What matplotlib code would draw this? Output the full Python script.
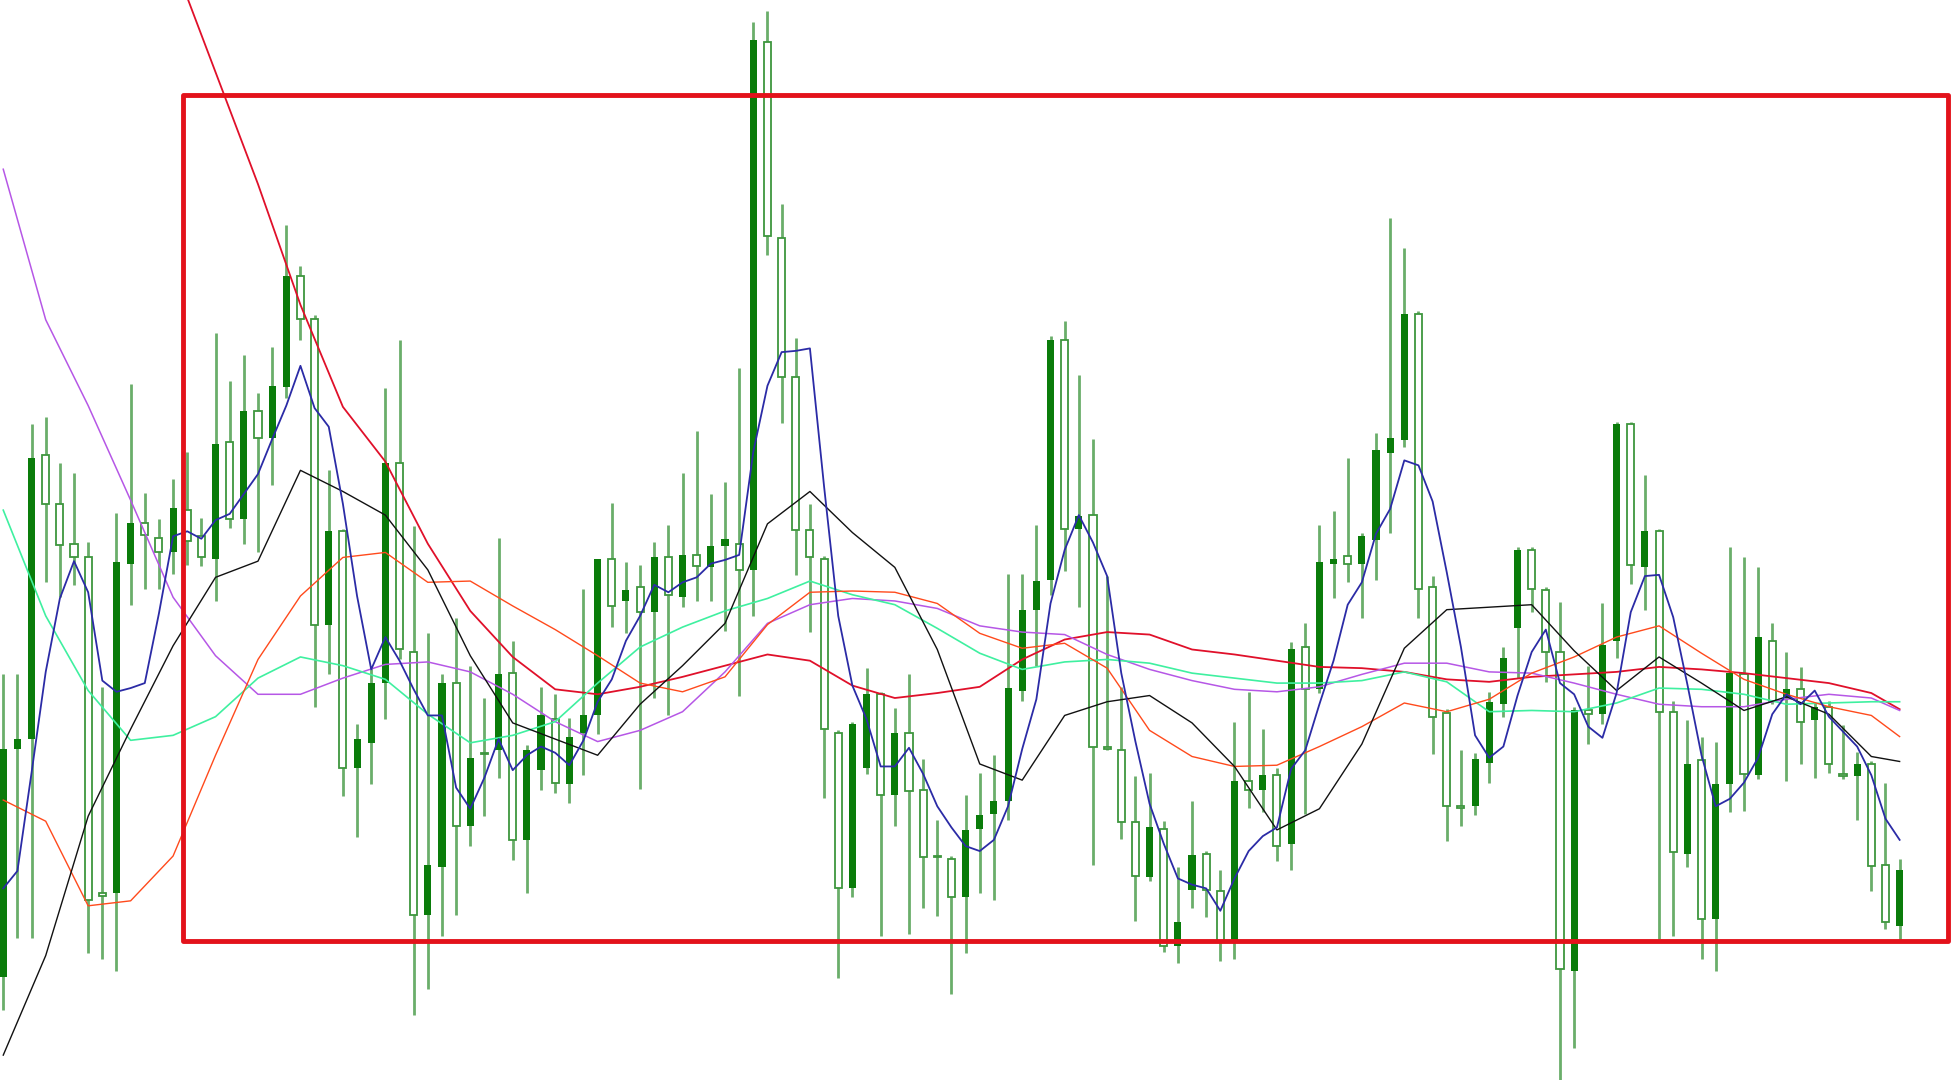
import numpy as np
import matplotlib.pyplot as plt
from matplotlib.patches import Rectangle

# OHLC per bar (price in chart points)
opens = [83, 266, 274, 502, 463, 431, 420, 150, 150, 415,
         448, 436, 424, 458, 437, 419, 513, 451, 538, 516,
         557, 646, 612, 366, 441, 251, 271, 319, 496, 344,
         133, 171, 319, 204, 263, 265, 327, 193, 249, 290,
         238, 279, 293, 419, 385, 396, 376, 420, 388, 422,
         412, 429, 431, 410, 834, 677, 565, 442, 419, 279,
         154, 251, 310, 229, 279, 233, 180, 178, 147, 202,
         214, 224, 313, 378, 402, 595, 443, 454, 268, 265,
         207, 163, 202, 108, 153, 182, 152, 111, 240, 233,
         245, 190, 348, 314, 415, 421, 415, 434, 504, 514,
         616, 396, 295, 220, 220, 255, 302, 363, 426, 394,
         344, 88, 297, 294, 353, 527, 412, 441, 296, 182,
         257, 129, 238, 326, 245, 353, 307, 314, 289, 300,
         246, 244, 254, 173, 124]
highs = [326, 326, 527, 533, 496, 488, 432, 316, 456, 559,
         472, 451, 483, 505, 452, 600, 562, 583, 552, 589,
         687, 654, 615, 490, 443, 286, 332, 556, 595, 445,
         359, 326, 371, 333, 307, 436, 353, 269, 316, 310,
         291, 395, 419, 464, 416, 414, 432, 446, 488, 522,
         471, 481, 572, 850, 859, 704, 596, 463, 421, 281,
         288, 331, 312, 299, 326, 258, 209, 180, 229, 247,
         261, 407, 407, 446, 598, 610, 567, 515, 405, 316,
         244, 247, 208, 171, 224, 184, 169, 288, 312, 282,
         251, 352, 367, 446, 457, 500, 440, 520, 693, 669,
         618, 405, 298, 265, 263, 312, 348, 428, 428, 396,
         384, 300, 333, 383, 529, 529, 486, 443, 305, 289,
         276, 272, 428, 420, 412, 367, 344, 332, 303, 305,
         285, 264, 256, 239, 178]
lows = [56, 114, 114, 400, 388, 398, 102, 97, 88, 382,
        395, 395, 407, 414, 413, 385, 444, 431, 424, 478,
        548, 595, 300, 326, 228, 195, 238, 290, 338, 52,
        73, 116, 133, 188, 212, 243, 177, 150, 233, 231,
        223, 245, 278, 364, 359, 234, 307, 293, 380, 385,
        385, 361, 309, 373, 663, 528, 406, 360, 227, 82,
        147, 246, 116, 204, 117, 138, 132, 69, 102, 150,
        145, 209, 305, 333, 390, 409, 380, 173, 265, 194,
        128, 160, 103, 94, 138, 131, 96, 97, 219, 215,
        176, 169, 214, 311, 387, 400, 371, 402, 440, 509,
        371, 262, 192, 204, 213, 239, 292, 323, 376, 320,
        -5, 26, 270, 286, 339, 399, 378, 113, 116, 171,
        97, 88, 215, 216, 242, 302, 240, 254, 243, 247,
        242, 209, 152, 121, 112]
closes = [266, 274, 500, 463, 430, 420, 145, 148, 416, 448,
          438, 424, 460, 433, 420, 511, 451, 538, 516, 558,
          646, 612, 366, 441, 251, 274, 319, 496, 346, 133,
          173, 319, 204, 259, 262, 326, 193, 265, 293, 239,
          276, 293, 419, 381, 394, 376, 420, 390, 422, 413,
          429, 435, 410, 836, 678, 565, 442, 420, 282, 154,
          286, 310, 229, 279, 232, 179, 179, 147, 201, 213,
          224, 315, 378, 401, 595, 443, 453, 268, 266, 207,
          164, 203, 108, 127, 181, 153, 111, 240, 233, 245,
          188, 346, 314, 416, 419, 415, 437, 506, 516, 616,
          395, 292, 220, 219, 258, 304, 339, 426, 395, 344,
          89, 297, 294, 350, 527, 414, 441, 296, 183, 254,
          129, 238, 327, 246, 356, 305, 314, 288, 300, 254,
          244, 254, 172, 127, 169]

# fast MA (blue), one value per bar
ma_fast = [154, 168, 247, 328, 387, 417, 392, 321, 312, 315,
           319, 375, 437, 441, 435, 450, 455, 471, 487, 515,
           542, 574, 540, 525, 463, 389, 330, 356, 337, 314,
           293, 293, 235, 218, 243, 274, 249, 261, 268, 263,
           253, 273, 304, 322, 353, 373, 398, 392, 400, 404,
           415, 418, 422, 505, 558, 585, 586, 588, 477, 373,
           317, 290, 252, 252, 267, 246, 220, 203, 188, 184,
           193, 220, 266, 306, 383, 426, 454, 432, 405, 327,
           272, 222, 190, 162, 157, 154, 136, 162, 184, 196,
           203, 250, 265, 302, 337, 382, 400, 439, 459, 498,
           494, 465, 408, 348, 277, 259, 268, 309, 344, 362,
           319, 310, 284, 275, 311, 376, 405, 406, 372, 318,
           261, 220, 226, 239, 259, 294, 310, 302, 313, 292,
           280, 268, 245, 210, 193]

# slower MAs, read every third bar
ma_bars = list(range(0, 133, 3)) + [134]
ma_red = [1261, 1171, 1080, 990, 900, 810, 720, 623, 541, 497,
          431, 377, 340, 314, 310, 316, 324, 333, 342, 337,
          317, 307, 311, 316, 338, 354, 360, 358, 346, 342,
          337, 332, 331, 328, 322, 320, 324, 326, 328, 332,
          330, 327, 323, 319, 311, 298]
ma_purple = [732, 611, 542, 466, 388, 341, 310, 310, 323, 334,
             336, 328, 310, 288, 272, 281, 296, 328, 367, 382,
             387, 385, 379, 365, 360, 358, 342, 330, 321, 314,
             312, 316, 326, 335, 335, 328, 327, 319, 310, 302,
             300, 300, 306, 310, 307, 297]
ma_green = [458, 373, 313, 273, 277, 292, 323, 340, 333, 322,
            294, 271, 277, 288, 319, 348, 364, 377, 387, 401,
            390, 382, 363, 343, 330, 336, 338, 335, 327, 323,
            319, 319, 321, 328, 320, 296, 297, 296, 303, 315,
            314, 310, 302, 303, 304, 304]
ma_orange = [225, 208, 140, 144, 180, 261, 338, 389, 420, 424,
             400, 401, 381, 362, 341, 319, 312, 324, 366, 392,
             393, 392, 383, 359, 347, 351, 331, 281, 260, 252,
             253, 268, 284, 303, 296, 306, 327, 340, 356, 365,
             343, 322, 310, 300, 293, 276]
ma_black = [20, 100, 212, 282, 349, 404, 417, 490, 473, 454,
            410, 341, 287, 274, 261, 302, 333, 367, 447, 473,
            440, 412, 346, 254, 241, 293, 304, 309, 287, 252,
            201, 218, 270, 347, 378, 380, 382, 345, 313, 340,
            319, 297, 308, 294, 260, 256]


def main():
    fig = plt.figure(figsize=(19.52, 10.8), dpi=100)
    ax = fig.add_axes([0, 0, 1, 1])
    ax.set_xlim(-0.23, 137.7)
    ax.set_ylim(0, 868)
    ax.axis('off')

    x = np.arange(len(opens))
    o = np.array(opens)
    c = np.array(closes)
    up = c > o
    bottom = np.minimum(o, c)
    height = np.maximum(np.abs(c - o), 1)

    # wicks first so hollow bodies cover them
    ax.vlines(x, lows, highs, color='#6aae6a', linewidth=2.0, zorder=1)
    ax.bar(x[up], height[up], bottom=bottom[up], width=0.5,
           color='#0a7c0a', zorder=2)
    ax.bar(x[~up], height[~up], bottom=bottom[~up], width=0.5,
           facecolor='white', edgecolor='#3e963e', linewidth=1.3, zorder=2)

    lines = [(ma_red, '#e0102a', 1.3),
             (ma_purple, '#b657e6', 1.1),
             (ma_green, '#3ff0a0', 1.2),
             (ma_orange, '#ff4a1c', 1.0),
             (ma_black, '#111111', 1.0)]
    for vals, col, lw in lines:
        ax.plot(ma_bars, vals, color=col, linewidth=lw, zorder=3)
    ax.plot(x, ma_fast, color='#2b2ba6', linewidth=1.3, zorder=3)

    # highlight box
    box = Rectangle((0.0938, 0.1287), 0.9042, 0.7837, transform=fig.transFigure,
                    fill=False, edgecolor='#e3121b', linewidth=3.5,
                    joinstyle='round', zorder=10)
    fig.add_artist(box)

    fig.savefig('out.png', dpi=100, facecolor='white')


if __name__ == "__main__":
    main()
